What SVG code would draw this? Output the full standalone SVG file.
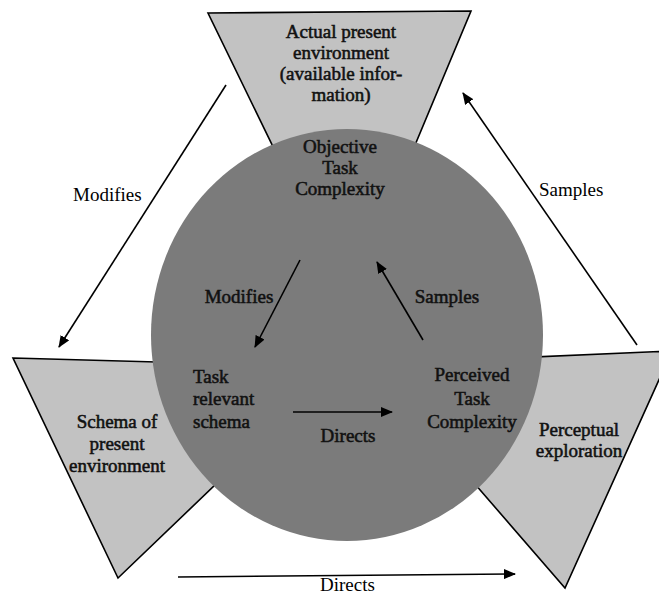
<svg xmlns="http://www.w3.org/2000/svg" width="659" height="596" viewBox="0 0 659 596">
  <style>
    .tri { fill: #c2c2c2; stroke: #000; stroke-width: 1.6; stroke-linejoin: miter; }
    .core { fill: #7b7b7b; }
    .lbl { font-family: "Liberation Serif", "Times New Roman", serif; font-size: 19px; fill: #000; }
    .in { font-family: "Liberation Serif", "Times New Roman", serif; font-size: 19px; fill: #111; stroke: #111; stroke-width: 0.55; text-anchor: middle; }
    .arrow { stroke: #000; stroke-width: 1.6; fill: none; marker-end: url(#head); }
  </style>
  <defs>
    <marker id="head" viewBox="0 0 12 10" refX="11" refY="5" markerWidth="12" markerHeight="10" markerUnits="userSpaceOnUse" orient="auto">
      <path d="M0,0 L12,5 L0,10 Z" fill="#000"/>
    </marker>
  </defs>

  <rect width="659" height="596" fill="#fff"/>

  <!-- environment, schema and exploration triangles -->
  <g id="actual-environment">
    <polygon class="tri" points="208,13 471,11 349,303"/>
    <text class="in" x="341" y="38">Actual present</text>
    <text class="in" x="341" y="59">environment</text>
    <text class="in" x="341" y="80">(available infor-</text>
    <text class="in" x="341" y="101">mation)</text>
  </g>

  <g id="schema">
    <polygon class="tri" points="13,358 338,367 118,578"/>
    <text class="in" x="117" y="428">Schema of</text>
    <text class="in" x="117" y="450">present</text>
    <text class="in" x="117" y="472">environment</text>
  </g>

  <g id="exploration">
    <polygon class="tri" points="371,364 672,351 565,588"/>
    <text class="in" x="579" y="436">Perceptual</text>
    <text class="in" x="579" y="457">exploration</text>
  </g>

  <!-- central task complexity disc -->
  <g id="task-complexity">
    <ellipse class="core" cx="347" cy="335" rx="196" ry="206"/>
    <text class="in" x="340" y="153">Objective</text>
    <text class="in" x="340" y="174">Task</text>
    <text class="in" x="340" y="195">Complexity</text>
  </g>

  <g id="task-schema">
    <text class="in" x="193" y="383" style="text-anchor:start">Task</text>
    <text class="in" x="193" y="405" style="text-anchor:start">relevant</text>
    <text class="in" x="193" y="428" style="text-anchor:start">schema</text>
  </g>

  <g id="perceived-complexity">
    <text class="in" x="472" y="381">Perceived</text>
    <text class="in" x="472" y="405">Task</text>
    <text class="in" x="472" y="428">Complexity</text>
  </g>

  <!-- connectors -->
  <g id="connectors">
    <line class="arrow" x1="226" y1="85" x2="59" y2="347"/>
    <line class="arrow" x1="637" y1="345" x2="463" y2="93"/>
    <line class="arrow" x1="178" y1="577" x2="515" y2="574"/>
    <line class="arrow" x1="300" y1="260" x2="255" y2="347"/>
    <line class="arrow" x1="423" y1="340" x2="377" y2="262"/>
    <line class="arrow" x1="293" y1="412" x2="392" y2="412"/>

    <text class="lbl" x="73" y="201">Modifies</text>
    <text class="lbl" x="539" y="196">Samples</text>
    <text class="lbl" x="320" y="591">Directs</text>
    <text class="in" x="239" y="303">Modifies</text>
    <text class="in" x="447" y="303">Samples</text>
    <text class="in" x="348" y="442">Directs</text>
  </g>
</svg>
